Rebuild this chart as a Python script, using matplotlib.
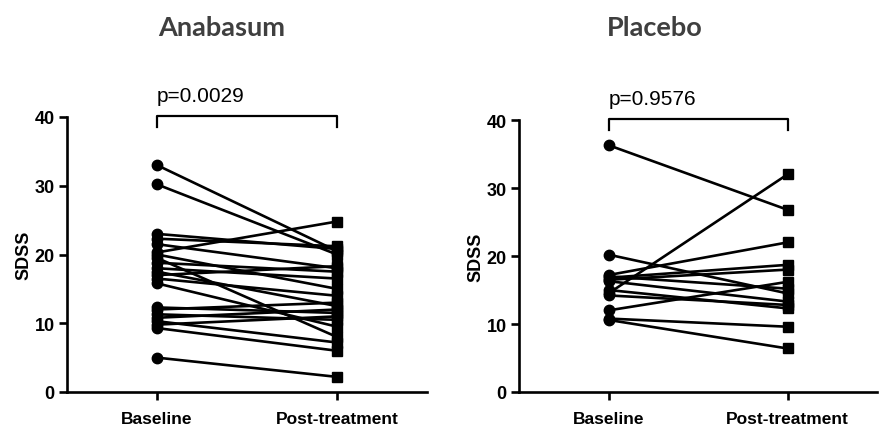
import matplotlib
matplotlib.use("Agg")
import matplotlib.pyplot as plt

categories = ["Baseline", "Post-treatment"]
yticks = [0, 10, 20, 30, 40]

ana_baseline = [33.0, 30.2, 23.0, 22.3, 21.5, 20.3, 20.0, 19.5, 18.8, 18.0, 17.5,
                17.0, 16.5, 15.8, 12.3, 12.0, 11.3, 10.8, 10.3, 9.8, 9.3, 5.0]
ana_post = [20.5, 20.0, 20.8, 21.2, 18.0, 24.8, 15.0, 8.0, 17.5, 16.5, 12.5,
            18.3, 14.0, 9.5, 11.5, 13.0, 10.5, 12.0, 7.2, 11.0, 6.0, 2.2]

pla_baseline = [36.3, 14.5, 20.2, 17.2, 16.8, 16.5, 17.0, 16.3, 15.0, 14.2, 12.0, 10.8, 10.6]
pla_post = [26.8, 32.0, 14.5, 22.0, 18.7, 18.0, 15.2, 13.3, 12.3, 12.8, 16.2, 9.6, 6.4]

titles = ["Anabasum", "Placebo"]
pvalues = ["p=0.0029", "p=0.9576"]
ylabel = "SDSS"

fig = plt.figure(figsize=(8.88, 4.27), dpi=100)
W, H = 888, 427
boxes = [(67, 427, 393, 118), (519, 877, 393, 121)]
datasets = [(ana_baseline, ana_post), (pla_baseline, pla_post)]
title_x = [222, 655]

for i, ((x0, x1, yb, yt), (b, p)) in enumerate(zip(boxes, datasets)):
    ax = fig.add_axes([x0 / W, 1 - yb / H, (x1 - x0) / W, (yb - yt) / H])
    for bv, pv in zip(b, p):
        ax.plot([0, 1], [bv, pv], color="black", lw=1.9, zorder=2, solid_capstyle="round")
    ax.plot([0] * len(b), b, "o", color="black", ms=7.5, zorder=3, clip_on=False)
    ax.plot([1] * len(p), p, "s", color="black", ms=7, zorder=3, clip_on=False)
    ax.set_xlim(-0.5, 1.5)
    ax.set_ylim(0, 40)
    ax.set_xticks([0, 1])
    ax.set_xticklabels(categories, fontsize=12.5, fontweight="bold", family="Liberation Sans")
    ax.set_yticks(yticks)
    ax.set_yticklabels([str(v) for v in yticks], fontsize=13, fontweight="bold", family="Liberation Sans")
    ax.set_ylabel(ylabel, fontsize=13, fontweight="bold", family="Liberation Sans", labelpad=1.5)
    for s in ["top", "right"]:
        ax.spines[s].set_visible(False)
    for s in ["left", "bottom"]:
        ax.spines[s].set_linewidth(1.9)
    ax.tick_params(width=1.9, length=6, pad=3)
    ax.tick_params(axis="x", pad=8)
    # bracket
    ax.plot([0, 0, 1, 1], [38.5, 40.2, 40.2, 38.5], color="black", lw=1.6, clip_on=False)
    ax.text(0, 42.3, pvalues[i], fontsize=15, family="Liberation Sans", ha="left", va="baseline")
    fig.text(title_x[i] / W, 1 - 28 / H, titles[i], fontsize=19.5, fontweight="bold",
             family="Lato", color="#3f3f3f", ha="center", va="center")

fig.savefig("out.png", dpi=100)
